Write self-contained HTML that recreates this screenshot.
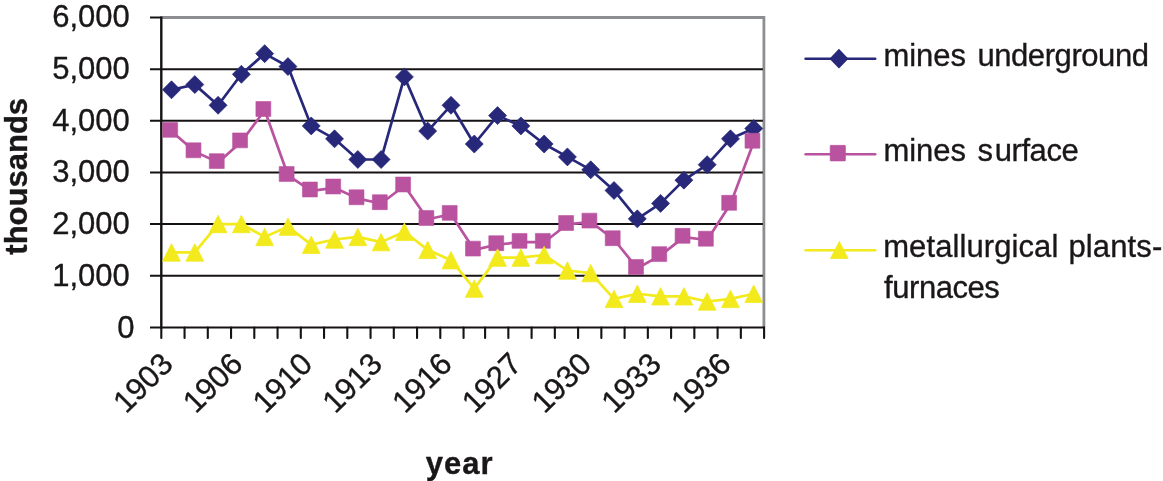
<!DOCTYPE html>
<html><head><meta charset="utf-8"><title>chart</title>
<style>html,body{margin:0;padding:0;background:#fff}svg{display:block}text{font-family:"Liberation Sans",Arial,Helvetica,sans-serif;fill:#1a1718;stroke:#1a1718;stroke-width:0.35px}</style></head><body>
<svg width="1163" height="481" viewBox="0 0 1163 481">
<rect width="1163" height="481" fill="#fff"/>
<path d="M161.3 17.5H763.9V327.55" fill="none" stroke="#8c8e92" stroke-width="2.8"/>
<line x1="150" x2="762.9" y1="275.67" y2="275.67" stroke="#161213" stroke-width="2"/>
<line x1="150" x2="762.9" y1="224.03" y2="224.03" stroke="#161213" stroke-width="2"/>
<line x1="150" x2="762.9" y1="172.40" y2="172.40" stroke="#161213" stroke-width="2"/>
<line x1="150" x2="762.9" y1="120.77" y2="120.77" stroke="#161213" stroke-width="2"/>
<line x1="150" x2="762.9" y1="69.13" y2="69.13" stroke="#161213" stroke-width="2"/>
<line x1="150" x2="161.3" y1="17.5" y2="17.5" stroke="#161213" stroke-width="2"/>
<line x1="161.3" x2="161.3" y1="16.5" y2="328.55" stroke="#161213" stroke-width="2.4"/>
<line x1="150" x2="764.9" y1="327.55" y2="327.55" stroke="#161213" stroke-width="2.1"/>
<path d="M161.30 327.55V337.9M184.55 327.55V337.9M207.80 327.55V337.9M231.05 327.55V337.9M254.30 327.55V337.9M277.55 327.55V337.9M300.80 327.55V337.9M324.05 327.55V337.9M347.30 327.55V337.9M370.55 327.55V337.9M393.80 327.55V337.9M417.05 327.55V337.9M440.30 327.55V337.9M463.55 327.55V337.9M485.10 327.55V337.9M508.35 327.55V337.9M531.60 327.55V337.9M554.85 327.55V337.9M578.10 327.55V337.9M601.35 327.55V337.9M624.60 327.55V337.9M647.85 327.55V337.9M671.10 327.55V337.9M694.35 327.55V337.9M717.60 327.55V337.9M740.85 327.55V337.9M764.10 327.55V337.9" stroke="#161213" stroke-width="2.1" fill="none" stroke-linecap="round"/>
<polyline fill="none" stroke="#27287a" stroke-width="2.7" stroke-linejoin="round" points="171.50,89.79 194.79,84.62 218.08,105.28 241.37,74.30 264.66,53.64 287.95,66.55 311.24,125.93 334.53,138.84 357.82,159.49 381.11,159.49 404.40,76.88 427.69,131.09 450.98,105.28 474.27,144.00 497.56,115.60 520.85,125.93 544.14,144.00 567.43,156.91 590.72,169.82 614.01,190.47 637.30,218.87 660.59,203.38 683.88,180.15 707.17,164.66 730.46,138.84 753.75,128.51"/>
<path fill="#27287a" stroke="#27287a" stroke-width="0.7" stroke-linejoin="round" d="M162.50 89.79L171.50 80.79L180.50 89.79L171.50 98.79ZM185.79 84.62L194.79 75.62L203.79 84.62L194.79 93.62ZM209.08 105.28L218.08 96.28L227.08 105.28L218.08 114.28ZM232.37 74.30L241.37 65.30L250.37 74.30L241.37 83.30ZM255.66 53.64L264.66 44.64L273.66 53.64L264.66 62.64ZM278.95 66.55L287.95 57.55L296.95 66.55L287.95 75.55ZM302.24 125.93L311.24 116.93L320.24 125.93L311.24 134.93ZM325.53 138.84L334.53 129.84L343.53 138.84L334.53 147.84ZM348.82 159.49L357.82 150.49L366.82 159.49L357.82 168.49ZM372.11 159.49L381.11 150.49L390.11 159.49L381.11 168.49ZM395.40 76.88L404.40 67.88L413.40 76.88L404.40 85.88ZM418.69 131.09L427.69 122.09L436.69 131.09L427.69 140.09ZM441.98 105.28L450.98 96.28L459.98 105.28L450.98 114.28ZM465.27 144.00L474.27 135.00L483.27 144.00L474.27 153.00ZM488.56 115.60L497.56 106.60L506.56 115.60L497.56 124.60ZM511.85 125.93L520.85 116.93L529.85 125.93L520.85 134.93ZM535.14 144.00L544.14 135.00L553.14 144.00L544.14 153.00ZM558.43 156.91L567.43 147.91L576.43 156.91L567.43 165.91ZM581.72 169.82L590.72 160.82L599.72 169.82L590.72 178.82ZM605.01 190.47L614.01 181.47L623.01 190.47L614.01 199.47ZM628.30 218.87L637.30 209.87L646.30 218.87L637.30 227.87ZM651.59 203.38L660.59 194.38L669.59 203.38L660.59 212.38ZM674.88 180.15L683.88 171.15L692.88 180.15L683.88 189.15ZM698.17 164.66L707.17 155.66L716.17 164.66L707.17 173.66ZM721.46 138.84L730.46 129.84L739.46 138.84L730.46 147.84ZM744.75 128.51L753.75 119.51L762.75 128.51L753.75 137.51Z"/>
<polyline fill="none" stroke="#b9529f" stroke-width="2.7" stroke-linejoin="round" points="171.50,131.20 194.79,151.60 218.08,162.40 241.37,141.70 264.66,110.30 287.95,175.30 311.24,190.80 334.53,187.80 357.82,198.60 381.11,203.50 404.40,185.80 427.69,219.30 450.98,214.20 474.27,249.90 497.56,244.50 520.85,242.20 544.14,242.20 567.43,224.30 590.72,221.90 614.01,239.50 637.30,268.30 660.59,255.40 683.88,237.10 707.17,240.00 730.46,204.10 753.75,142.00"/>
<path fill="#b9529f" stroke="#b9529f" stroke-width="0.6" stroke-linejoin="round" d="M162.75 122.45h14.9v14.9h-14.9ZM186.04 142.85h14.9v14.9h-14.9ZM209.33 153.65h14.9v14.9h-14.9ZM232.62 132.95h14.9v14.9h-14.9ZM255.91 101.55h14.9v14.9h-14.9ZM279.20 166.55h14.9v14.9h-14.9ZM302.49 182.05h14.9v14.9h-14.9ZM325.78 179.05h14.9v14.9h-14.9ZM349.07 189.85h14.9v14.9h-14.9ZM372.36 194.75h14.9v14.9h-14.9ZM395.65 177.05h14.9v14.9h-14.9ZM418.94 210.55h14.9v14.9h-14.9ZM442.23 205.45h14.9v14.9h-14.9ZM465.52 241.15h14.9v14.9h-14.9ZM488.81 235.75h14.9v14.9h-14.9ZM512.10 233.45h14.9v14.9h-14.9ZM535.39 233.45h14.9v14.9h-14.9ZM558.68 215.55h14.9v14.9h-14.9ZM581.97 213.15h14.9v14.9h-14.9ZM605.26 230.75h14.9v14.9h-14.9ZM628.55 259.55h14.9v14.9h-14.9ZM651.84 246.65h14.9v14.9h-14.9ZM675.13 228.35h14.9v14.9h-14.9ZM698.42 231.25h14.9v14.9h-14.9ZM721.71 195.35h14.9v14.9h-14.9ZM745.00 133.25h14.9v14.9h-14.9Z"/>
<polyline fill="none" stroke="#f2ea1d" stroke-width="2.7" stroke-linejoin="round" points="171.50,252.43 194.79,252.43 218.08,224.03 241.37,224.03 264.66,236.94 287.95,226.62 311.24,244.69 334.53,239.52 357.82,236.94 381.11,242.11 404.40,231.78 427.69,249.85 450.98,260.18 474.27,288.57 497.56,257.60 520.85,257.60 544.14,255.01 567.43,270.50 590.72,273.09 614.01,298.90 637.30,293.74 660.59,296.32 683.88,296.32 707.17,301.48 730.46,298.90 753.75,293.74"/>
<path fill="#f2ea1d" stroke="#f2ea1d" stroke-width="0.8" stroke-linejoin="round" d="M171.50 243.73L180.40 261.13H162.60ZM194.79 243.73L203.69 261.13H185.89ZM218.08 215.33L226.98 232.73H209.18ZM241.37 215.33L250.27 232.73H232.47ZM264.66 228.24L273.56 245.64H255.76ZM287.95 217.92L296.85 235.31H279.05ZM311.24 235.99L320.14 253.39H302.34ZM334.53 230.82L343.43 248.22H325.63ZM357.82 228.24L366.72 245.64H348.92ZM381.11 233.41L390.01 250.81H372.21ZM404.40 223.08L413.30 240.48H395.50ZM427.69 241.15L436.59 258.55H418.79ZM450.98 251.48L459.88 268.88H442.08ZM474.27 279.88L483.17 297.27H465.37ZM497.56 248.90L506.46 266.30H488.66ZM520.85 248.90L529.75 266.30H511.95ZM544.14 246.31L553.04 263.71H535.24ZM567.43 261.80L576.33 279.20H558.53ZM590.72 264.39L599.62 281.79H581.82ZM614.01 290.20L622.91 307.60H605.11ZM637.30 285.04L646.20 302.44H628.40ZM660.59 287.62L669.49 305.02H651.69ZM683.88 287.62L692.78 305.02H674.98ZM707.17 292.78L716.07 310.18H698.27ZM730.46 290.20L739.36 307.60H721.56ZM753.75 285.04L762.65 302.44H744.85Z"/>
<text x="134.6" y="337.50" font-size="31" text-anchor="end">0</text>
<text x="129.8" y="285.57" font-size="31" text-anchor="end">1,000</text>
<text x="129.8" y="233.93" font-size="31" text-anchor="end">2,000</text>
<text x="129.8" y="182.30" font-size="31" text-anchor="end">3,000</text>
<text x="129.8" y="130.67" font-size="31" text-anchor="end">4,000</text>
<text x="129.8" y="79.03" font-size="31" text-anchor="end">5,000</text>
<text x="129.8" y="27.40" font-size="31" text-anchor="end">6,000</text>
<text transform="translate(27.2 176.3) rotate(-90)" font-size="31" font-weight="bold" stroke-width="0.15" text-anchor="middle">thousands</text>
<text x="425.7" y="473.7" font-size="31" font-weight="bold" stroke-width="0.15" letter-spacing="1">year</text>
<text transform="translate(174.70 365.8) rotate(-45)" font-size="31" text-anchor="end">1903</text>
<text transform="translate(244.45 365.8) rotate(-45)" font-size="31" text-anchor="end">1906</text>
<text transform="translate(314.20 365.8) rotate(-45)" font-size="31" text-anchor="end">1910</text>
<text transform="translate(383.95 365.8) rotate(-45)" font-size="31" text-anchor="end">1913</text>
<text transform="translate(453.70 365.8) rotate(-45)" font-size="31" text-anchor="end">1916</text>
<text transform="translate(523.45 365.8) rotate(-45)" font-size="31" text-anchor="end">1927</text>
<text transform="translate(593.20 365.8) rotate(-45)" font-size="31" text-anchor="end">1930</text>
<text transform="translate(662.95 365.8) rotate(-45)" font-size="31" text-anchor="end">1933</text>
<text transform="translate(732.70 365.8) rotate(-45)" font-size="31" text-anchor="end">1936</text>
<line x1="805.6" x2="875.2" y1="58.7" y2="58.7" stroke="#27287a" stroke-width="2.6" stroke-linecap="round"/>
<path fill="#27287a" d="M829.45 58.650000000000006L838.95 48.85000000000001L848.45 58.650000000000006L838.95 68.45Z"/>
<line x1="805.6" x2="875.2" y1="154.2" y2="154.2" stroke="#b9529f" stroke-width="2.6" stroke-linecap="round"/>
<rect x="830.15" y="145.35" width="15.3" height="15.6" rx="0.6" fill="#b9529f" stroke="#b9529f" stroke-width="0.6"/>
<line x1="805.6" x2="875.2" y1="250.2" y2="250.2" stroke="#f2ea1d" stroke-width="2.6" stroke-linecap="round"/>
<path fill="#f2ea1d" stroke="#f2ea1d" stroke-width="0.8" stroke-linejoin="round" d="M839.3 241.39999999999998L848.0999999999999 258.5H830.5Z"/>
<text font-size="31" y="65.7"><tspan x="883.4">mines</tspan> <tspan x="977.4" letter-spacing="-0.42">underground</tspan></text>
<text font-size="31" y="161.2"><tspan x="883.4">mines</tspan> <tspan x="977.6">s<tspan dx="1.7" letter-spacing="-0.45">urface</tspan></tspan></text>
<text font-size="31" y="257.2"><tspan x="883.2" letter-spacing="0.09">metallurgical</tspan> <tspan x="1068.4" letter-spacing="0.15">plants-</tspan></text>
<text font-size="31" y="297.7" x="884.1" letter-spacing="-0.45">furnaces</text>
</svg></body></html>
